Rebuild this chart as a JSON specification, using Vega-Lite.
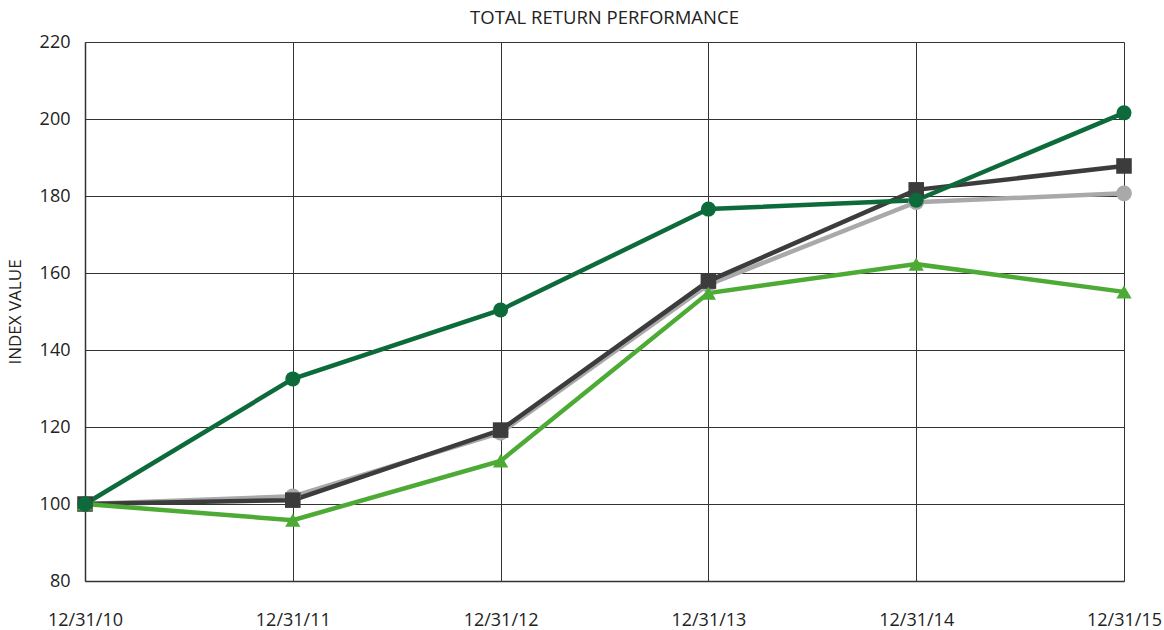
{
  "$schema": "https://vega.github.io/schema/vega-lite/v6.json",
  "width": 1039,
  "height": 539,
  "autosize": "none",
  "padding": {"left": 85, "top": 42, "right": 40, "bottom": 49},
  "background": "white",
  "config": {
    "font": "Open Sans",
    "view": {"stroke": null},
    "title": {"font": "Open Sans", "fontSize": 18.5, "fontWeight": "normal", "color": "#222222", "offset": 6},
    "axis": {"labelFont": "Open Sans", "titleFont": "Open Sans", "labelColor": "#222222", "titleColor": "#222222"}
  },
  "title": {"text": "TOTAL RETURN PERFORMANCE", "anchor": "middle"},
  "data": {
    "values": [
      {"date": "12/31/10", "series": "Series A", "value": 100},
      {"date": "12/31/11", "series": "Series A", "value": 102},
      {"date": "12/31/12", "series": "Series A", "value": 118.5},
      {"date": "12/31/13", "series": "Series A", "value": 157},
      {"date": "12/31/14", "series": "Series A", "value": 178.4},
      {"date": "12/31/15", "series": "Series A", "value": 180.7},
      {"date": "12/31/10", "series": "Series B", "value": 100},
      {"date": "12/31/11", "series": "Series B", "value": 101},
      {"date": "12/31/12", "series": "Series B", "value": 119.2},
      {"date": "12/31/13", "series": "Series B", "value": 157.9},
      {"date": "12/31/14", "series": "Series B", "value": 181.6},
      {"date": "12/31/15", "series": "Series B", "value": 187.8},
      {"date": "12/31/10", "series": "Series C", "value": 100},
      {"date": "12/31/11", "series": "Series C", "value": 95.8},
      {"date": "12/31/12", "series": "Series C", "value": 111.2},
      {"date": "12/31/13", "series": "Series C", "value": 154.8},
      {"date": "12/31/14", "series": "Series C", "value": 162.3},
      {"date": "12/31/15", "series": "Series C", "value": 155.1},
      {"date": "12/31/10", "series": "Series D", "value": 100},
      {"date": "12/31/11", "series": "Series D", "value": 132.5},
      {"date": "12/31/12", "series": "Series D", "value": 150.4},
      {"date": "12/31/13", "series": "Series D", "value": 176.6},
      {"date": "12/31/14", "series": "Series D", "value": 178.9},
      {"date": "12/31/15", "series": "Series D", "value": 201.6}
    ]
  },
  "encoding": {
    "x": {
      "field": "date", "type": "ordinal", "sort": null,
      "scale": {"type": "point", "padding": 0},
      "axis": {"title": null, "labelAngle": 0, "labelFontSize": 18, "labelPadding": 30, "grid": true, "gridColor": "#333333", "gridWidth": 1, "ticks": false, "domainColor": "#333333", "domainWidth": 1.5}
    },
    "y": {
      "field": "value", "type": "quantitative",
      "scale": {"domain": [80, 220], "nice": false, "zero": false},
      "axis": {"title": "INDEX VALUE", "values": [80, 100, 120, 140, 160, 180, 200, 220], "labelFontSize": 18, "titleFontSize": 17, "titleFontWeight": "normal", "labelPadding": 15, "titlePadding": 15, "grid": true, "gridColor": "#333333", "gridWidth": 1, "ticks": false, "domainColor": "#333333", "domainWidth": 1.5}
    },
    "color": {
      "field": "series", "type": "nominal",
      "scale": {"domain": ["Series A", "Series B", "Series C", "Series D"], "range": ["#a9a9ab", "#3c3c3c", "#4dab35", "#0d6b3b"]},
      "legend": null
    }
  },
  "layer": [
    {"mark": {"type": "line", "strokeWidth": 4.5}},
    {
      "mark": {"type": "point", "filled": true, "opacity": 1},
      "encoding": {
        "shape": {
          "field": "series", "type": "nominal",
          "scale": {"domain": ["Series A", "Series B", "Series C", "Series D"], "range": ["circle", "square", "triangle-up", "circle"]},
          "legend": null
        },
        "size": {
          "field": "series", "type": "nominal",
          "scale": {"domain": ["Series A", "Series B", "Series C", "Series D"], "range": [250, 225, 240, 270]},
          "legend": null
        }
      }
    }
  ]
}
